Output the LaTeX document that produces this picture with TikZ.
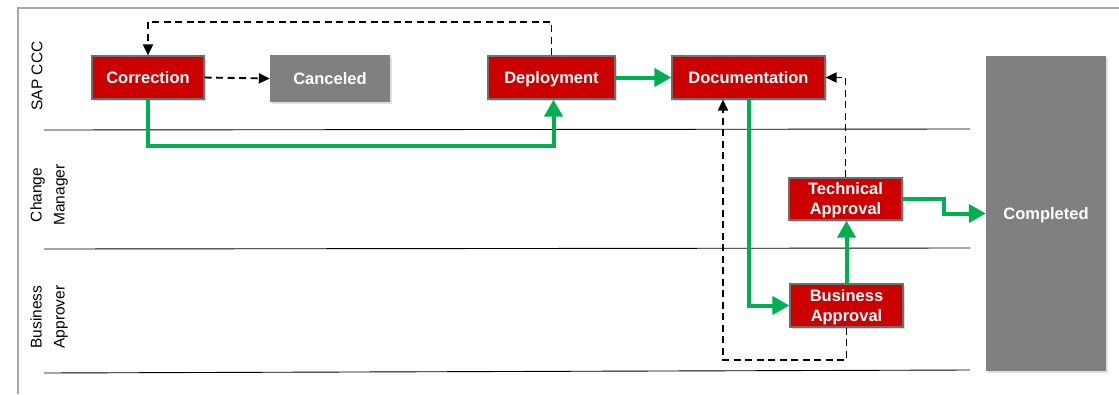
\documentclass[tikz,border=0pt]{standalone}
\usepackage{fontspec}
\setmainfont{Liberation Sans}
\usetikzlibrary{arrows.meta,shadows,calc}
\definecolor{boxred}{HTML}{CC0000}
\definecolor{boxgray}{HTML}{808080}
\definecolor{flowgreen}{HTML}{00B050}
\definecolor{framegray}{HTML}{A6A6A6}
\tikzset{
  redbox/.style={draw={rgb,255:red,110;green,110;blue,110}, line width=1.2pt, fill=boxred, text=white,
    font=\fontsize{16.5}{20}\selectfont\bfseries, align=center, inner sep=0pt,
    drop shadow={shadow xshift=2pt, shadow yshift=-2pt, opacity=0.3}},
  graybox/.style={fill=boxgray, text=white, font=\fontsize{16.5}{20}\selectfont\bfseries,
    align=center, inner sep=0pt,
    drop shadow={shadow xshift=2pt, shadow yshift=-2pt, opacity=0.25}},
  oneline/.style={text height=12pt, text depth=0.5pt},
  greenflow/.style={draw=flowgreen, line width=4pt, -{Triangle[length=17pt,width=18pt]}},
  dashflow/.style={draw=black, line width=1.9pt, dash pattern=on 7pt off 4.5pt, -{Triangle[length=11pt,width=10pt]}},
  lanelabel/.style={rotate=90, font=\fontsize{15.5}{23}\selectfont, align=center, inner sep=0pt},
  laneline/.style={draw=black, line width=0.9pt},
}
\begin{document}
\begin{tikzpicture}[x=1pt,y=-1pt]
\useasboundingbox (0,0) rectangle (1119,394);
% frame
\draw[framegray, line width=2pt] (17.5,394) -- (17.5,7.5) -- (1119,7.5);
% lane separators
\draw[laneline] (44,130) -- (970,129);
\draw[laneline] (44,249) -- (970,248);
\draw[laneline] (44,373) -- (970,370);
% lane labels
\node[lanelabel] (l1) at (37,76) {SAP CCC};
\node[lanelabel] (l2) at (49,195) {Change\\Manager};
\node[lanelabel] (l3) at (49,317) {Business\\Approver};
% boxes
\node[redbox, oneline, minimum width=112pt, minimum height=43pt] (cor) at (148,77.5) {Correction};
\node[graybox, oneline, minimum width=120pt, minimum height=47pt] (can) at (330,78.5) {Canceled};
\node[redbox, oneline, minimum width=127pt, minimum height=43pt] (dep) at (551.5,77.5) {Deployment};
\node[redbox, oneline, minimum width=153pt, minimum height=43pt] (doc) at (748.5,77.5) {Documentation};
\node[redbox, minimum width=113pt, minimum height=42pt] (tec) at (845.5,199) {\rule{0pt}{15pt}Technical\\Approval};
\node[redbox, minimum width=113pt, minimum height=43pt] (bus) at (846.5,305.5) {\rule{0pt}{15pt}Business\\Approval};
\node[graybox, oneline, minimum width=120pt, minimum height=315pt] (com) at (1046,213.5) {Completed};
% helper coordinates
\coordinate (topy) at (0,22);
\coordinate (midy) at (0,146);
\coordinate (boty) at (0,360);
\coordinate (leftx) at (723,0);
\coordinate (stepx) at (944,0);
% dashed connectors
\draw[dashflow] (cor.east) -- (can.west);
\draw[dashflow] (dep.north) -- (dep.north |- topy) -| (cor.north);
\draw[dashflow] (tec.north) |- (doc.east);
\draw[dashflow] (bus.south) -- (bus.south |- boty) -| (leftx |- doc.south);
% green connectors
\draw[greenflow] (cor.south) -- (cor.south |- midy) -| ([xshift=2pt]dep.south);
\draw[greenflow] (dep.east) -- (doc.east -| doc.west);
\draw[greenflow] (doc.south) |- (bus.west);
\draw[greenflow] (bus.north) -- (bus.north |- tec.south);
\draw[greenflow] (tec.east) -| (stepx |- com.west) -- (com.west);
\end{tikzpicture}
\end{document}
